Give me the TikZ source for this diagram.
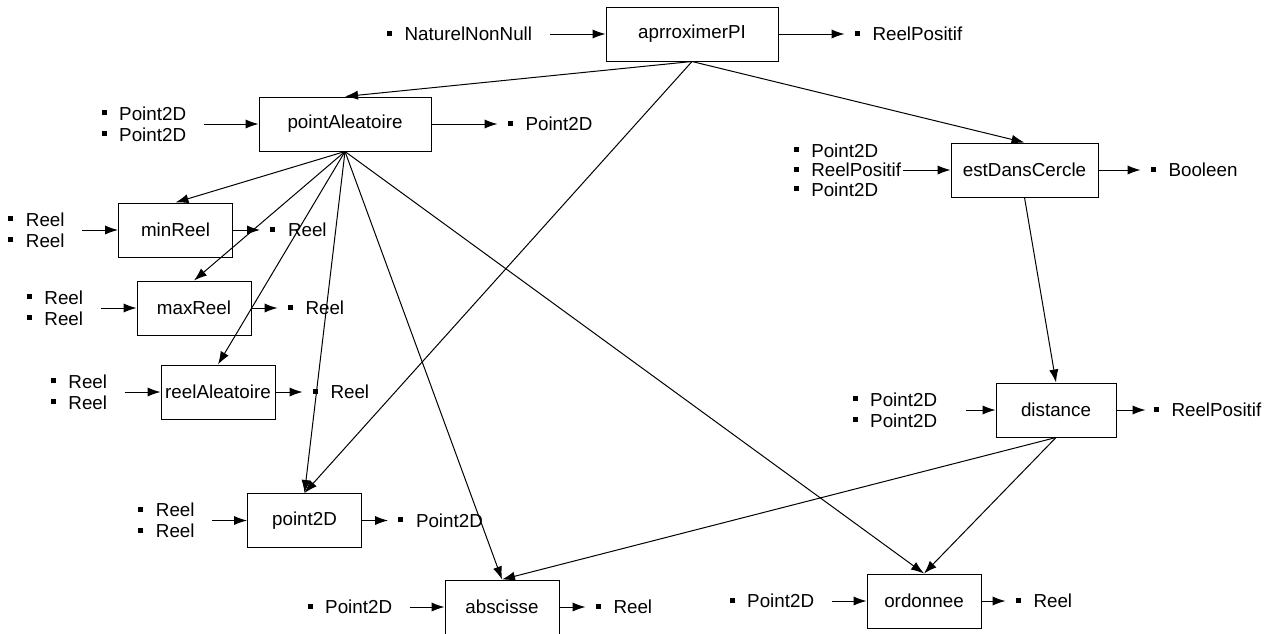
\documentclass[tikz,border=0pt]{standalone}
\usepackage{fontspec}
\setmainfont{Liberation Sans}
\usepackage{tikz}
\usetikzlibrary{positioning, arrows.meta}

\newcommand{\puce}{\rule[0.26em]{2.5pt}{2.5pt}\hspace{6.3pt}}

\begin{document}
\begin{tikzpicture}[
  x=0.5pt, y=-0.5pt,
  every node/.style={font=\fontsize{9.4}{10.5}\selectfont},
  fonction/.style={draw, line width=0.5pt, minimum width=57pt, minimum height=27pt, inner sep=0pt},
  param/.style={align=left, inner sep=0pt},
  fl/.style={-{Latex[length=6.5pt,width=4.6pt]}, line width=0.5pt},
  entree/.style={fl, shorten <=8.5pt},
  sortie/.style={fl, shorten >=5pt}
]
\useasboundingbox (0,0) rectangle (1273,633);

% Functions
\node[fonction, minimum width=86pt] (apx) at (692,34) {aprroximerPI};
\node[fonction, minimum width=86pt] (ptal) at (345,124) {pointAleatoire};
\node[fonction, minimum width=73.5pt] (edc) at (1024.5,170) {estDansCercle};
\node[fonction] (minr) at (175.5,230) {minReel};
\node[fonction] (maxr) at (194,308) {maxReel};
\node[fonction] (real) at (218,392) {reelAleatoire};
\node[fonction, minimum width=60pt] (dist) at (1056,410) {distance};
\node[fonction] (p2d) at (304.5,520.5) {point2D};
\node[fonction] (absc) at (502,607) {abscisse};
\node[fonction] (ordo) at (924,601) {ordonnee};

% Parameters and results
\node[param, left=36.5pt of apx] (apx-in) {\puce NaturelNonNull};
\node[param, right=38pt of apx] (apx-out) {\puce ReelPositif};
\node[param, left=36pt of ptal] (ptal-in) {\puce Point2D\\\puce Point2D};
\node[param, right=38pt of ptal] (ptal-out) {\puce Point2D};
\node[param, left=24.5pt of edc, font=\fontsize{9.4}{9.8}\selectfont] (edc-in) {\puce Point2D\\\puce ReelPositif\\\puce Point2D};
\node[param, right=26pt of edc] (edc-out) {\puce Booleen};
\node[param, left=26.5pt of minr] (minr-in) {\puce Reel\\\puce Reel};
\node[param, right=18.5pt of minr] (minr-out) {\puce Reel};
\node[param, left=26.5pt of maxr] (maxr-in) {\puce Reel\\\puce Reel};
\node[param, right=18pt of maxr] (maxr-out) {\puce Reel};
\node[param, left=26.5pt of real] (real-in) {\puce Reel\\\puce Reel};
\node[param, right=18.5pt of real] (real-out) {\puce Reel};
\node[param, left=29pt of dist] (dist-in) {\puce Point2D\\\puce Point2D};
\node[param, right=18.5pt of dist] (dist-out) {\puce ReelPositif};
\node[param, left=26pt of p2d] (p2d-in) {\puce Reel\\\puce Reel};
\node[param, right=18pt of p2d] (p2d-out) {\puce Point2D};
\node[param, left=26pt of absc] (absc-in) {\puce Point2D};
\node[param, right=18pt of absc] (absc-out) {\puce Reel};
\node[param, left=26pt of ordo] (ordo-in) {\puce Point2D};
\node[param, right=17pt of ordo] (ordo-out) {\puce Reel};

% Inputs / outputs
\draw[entree] (apx-in.east) -- (apx.west);
\draw[sortie] (apx.east) -- (apx-out.west);
\draw[entree] (ptal-in.east) -- (ptal.west);
\draw[sortie] (ptal.east) -- (ptal-out.west);
\draw[fl, shorten <=0.5pt] (edc-in.east) -- (edc.west);
\draw[sortie] (edc.east) -- (edc-out.west);
\draw[entree] (minr-in.east) -- (minr.west);
\draw[sortie] (minr.east) -- (minr-out.west);
\draw[entree] (maxr-in.east) -- (maxr.west);
\draw[sortie] (maxr.east) -- (maxr-out.west);
\draw[entree] (real-in.east) -- (real.west);
\draw[sortie] (real.east) -- (real-out.west);
\draw[fl, shorten <=14pt] (dist-in.east) -- (dist.west);
\draw[sortie, shorten >=4pt] (dist.east) -- (dist-out.west);
\draw[entree] (p2d-in.east) -- (p2d.west);
\draw[sortie] (p2d.east) -- (p2d-out.west);
\draw[entree] (absc-in.east) -- (absc.west);
\draw[sortie] (absc.east) -- (absc-out.west);
\draw[entree] (ordo-in.east) -- (ordo.west);
\draw[sortie] (ordo.east) -- (ordo-out.west);

% Calls
\draw[fl] (apx.south) -- (ptal.north);
\draw[fl] (apx.south) -- (edc.north);
\draw[fl] (apx.south) -- (p2d.north);
\draw[fl] (ptal.south) -- (minr.north);
\draw[fl] (ptal.south) -- (maxr.north);
\draw[fl] (ptal.south) -- (real.north);
\draw[fl] (ptal.south) -- (p2d.north);
\draw[fl] (ptal.south) -- (absc.north);
\draw[fl] (ptal.south) -- (ordo.north);
\draw[fl] (edc.south) -- (dist.north);
\draw[fl] (dist.south) -- (absc.north);
\draw[fl] (dist.south) -- (ordo.north);

\end{tikzpicture}
\end{document}
